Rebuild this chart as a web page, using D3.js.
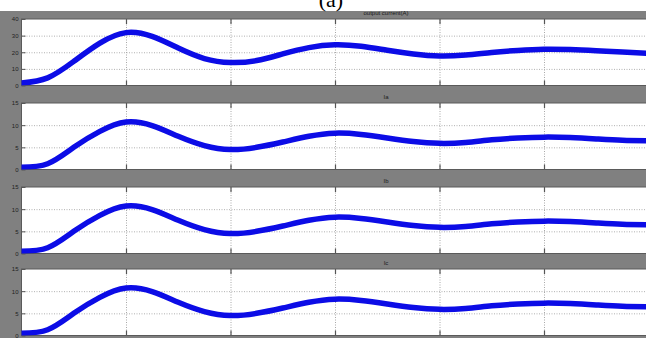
<!DOCTYPE html>
<html>
<head>
<meta charset="utf-8">
<script src="https://cdn.jsdelivr.net/npm/d3@7"></script>
<style>
  body { margin: 0; background: #fff; }
  svg { display: block; }
</style>
</head>
<body>
<svg id="chart"></svg>
<script>
// sample times (scope x axis, one grid division per unit)
const time = [0, 0.25, 0.5, 0.75, 1, 1.25, 1.5, 1.75, 2, 2.25, 2.5, 2.75, 3,
              3.25, 3.5, 3.75, 4, 4.25, 4.5, 4.75, 5, 5.25, 5.5, 5.75, 6];

const outputCurrent = [1.5, 4.6, 14.5, 25.5, 31.8, 29.5, 22.5, 16.2, 13.8, 15, 19, 22.8, 24.5,
                       23.6, 21.2, 19, 17.8, 18.4, 19.9, 21.1, 21.8, 21.6, 20.9, 20.1, 19.4];
const ia = [0.5, 1.3, 5.0, 8.6, 10.7, 9.9, 7.5, 5.4, 4.5, 5.0, 6.2, 7.5, 8.2,
            7.9, 7.1, 6.3, 5.9, 6.1, 6.7, 7.1, 7.3, 7.2, 6.9, 6.6, 6.5];
const ib = [0.5, 1.3, 5.0, 8.6, 10.7, 9.9, 7.5, 5.4, 4.5, 5.0, 6.2, 7.5, 8.2,
            7.9, 7.1, 6.3, 5.9, 6.1, 6.7, 7.1, 7.3, 7.2, 6.9, 6.6, 6.5];
const ic = [0.5, 1.3, 5.0, 8.6, 10.7, 9.9, 7.5, 5.4, 4.5, 5.0, 6.2, 7.5, 8.2,
            7.9, 7.1, 6.3, 5.9, 6.1, 6.7, 7.1, 7.3, 7.2, 6.9, 6.6, 6.5];

const panelTitles = ["output current(A)", "Ia", "Ib", "Ic"];
const yMaxes = [40, 15, 15, 15];
const currentTicks = [0, 10, 20, 30, 40];
const phaseTicks = [0, 5, 10, 15];
const xTicks = [1, 2, 3, 4, 5];

const W = 646, H = 338;
const plotLeft = 21.5, plotRight = 648.5;
const panelTops = [19, 103, 187, 269];
const panelH = 66.5;
const blue = "#0c0ce6";

const svg = d3.select("#chart").attr("width", W).attr("height", H)
  .attr("font-family", "Liberation Sans, Arial, sans-serif");

// gray scope background
svg.append("rect").attr("x", 0).attr("y", 11).attr("width", W).attr("height", H - 11)
  .attr("fill", "#808080");

// figure label, cut at the top like the source image
svg.append("text").attr("x", 331).attr("y", 7)
  .attr("text-anchor", "middle")
  .attr("font-family", "Liberation Serif, Times New Roman, serif")
  .attr("font-size", 22).attr("fill", "#000")
  .text("(a)");

const x = d3.scaleLinear().domain([0, 6]).range([plotLeft, plotRight]);

const panels = [
  { title: panelTitles[0], values: outputCurrent, max: yMaxes[0], ticks: currentTicks },
  { title: panelTitles[1], values: ia, max: yMaxes[1], ticks: phaseTicks },
  { title: panelTitles[2], values: ib, max: yMaxes[2], ticks: phaseTicks },
  { title: panelTitles[3], values: ic, max: yMaxes[3], ticks: phaseTicks }
];

panels.forEach((p, i) => {
  const top = panelTops[i];
  const y = d3.scaleLinear().domain([0, p.max]).range([top + panelH, top]);
  const g = svg.append("g");
  const pw = plotRight - plotLeft;

  // title in the bar above the plot
  g.append("text").attr("x", 386).attr("y", top - 4.5)
    .attr("text-anchor", "middle").attr("font-size", 6).attr("fill", "#1a1a1a")
    .text(p.title);

  g.append("rect").attr("x", plotLeft).attr("y", top).attr("width", pw).attr("height", panelH)
    .attr("fill", "#fff");

  // dotted grid
  g.append("g").attr("transform", `translate(${plotLeft},0)`)
    .call(d3.axisLeft(y).tickValues(p.ticks.filter(t => t > 0 && t < p.max))
      .tickSize(-pw).tickFormat(""))
    .call(a => a.select(".domain").remove())
    .selectAll("line").attr("stroke", "#b0b0b0").attr("stroke-dasharray", "1,1.5");

  g.append("g").attr("transform", `translate(0,${top + panelH})`)
    .call(d3.axisBottom(x).tickValues(xTicks).tickSize(-panelH).tickFormat(""))
    .call(a => a.select(".domain").remove())
    .selectAll("line").attr("stroke", "#a8a8a8").attr("stroke-dasharray", "1,1.5");

  // solid tick marks on the plot box
  g.append("g").attr("transform", `translate(0,${top + panelH})`)
    .call(d3.axisBottom(x).tickValues(xTicks).tickSize(-5).tickFormat(""))
    .call(a => a.select(".domain").remove())
    .selectAll("line").attr("stroke", "#555").attr("stroke-width", 1.2);
  g.append("g").attr("transform", `translate(0,${top})`)
    .call(d3.axisTop(x).tickValues(xTicks).tickSize(-5).tickFormat(""))
    .call(a => a.select(".domain").remove())
    .selectAll("line").attr("stroke", "#555").attr("stroke-width", 1.2);
  g.append("g").attr("transform", `translate(${plotLeft},0)`)
    .call(d3.axisLeft(y).tickValues(p.ticks).tickSize(-4).tickFormat(""))
    .call(a => a.select(".domain").remove())
    .selectAll("line").attr("stroke", "#555");

  // tick labels
  g.append("g").attr("transform", `translate(${plotLeft},0)`)
    .call(d3.axisLeft(y).tickValues(p.ticks).tickSize(0).tickPadding(3))
    .call(a => a.select(".domain").remove())
    .selectAll("text").attr("font-size", 6).attr("fill", "#222")
    .attr("font-family", "Liberation Sans, Arial, sans-serif");

  g.append("rect").attr("x", plotLeft).attr("y", top).attr("width", pw).attr("height", panelH)
    .attr("fill", "none").attr("stroke", "#5a5a5a").attr("stroke-width", 1);

  const clipId = "clip" + i;
  g.append("clipPath").attr("id", clipId).append("rect")
    .attr("x", plotLeft).attr("y", top).attr("width", pw).attr("height", panelH);

  const line = d3.line()
    .x((d, j) => x(time[j]))
    .y(d => y(d))
    .curve(d3.curveNatural);

  g.append("path").datum(p.values)
    .attr("clip-path", `url(#${clipId})`)
    .attr("d", line)
    .attr("fill", "none").attr("stroke", blue).attr("stroke-width", 5.5)
    .attr("stroke-linecap", "round");
});
</script>
</body>
</html>
